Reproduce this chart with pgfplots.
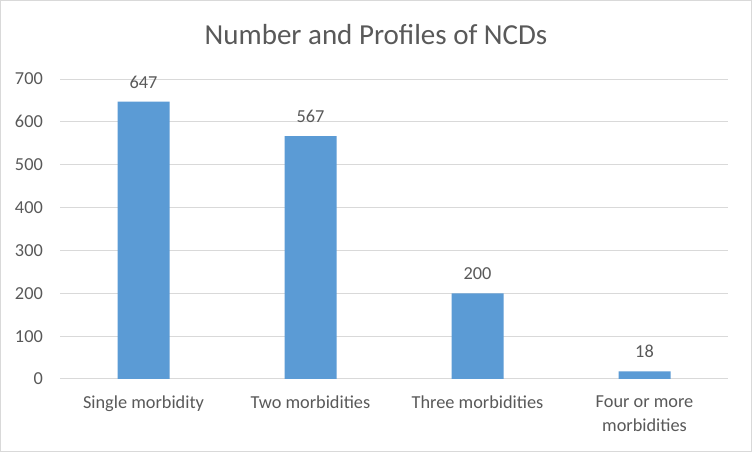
\documentclass[border=0pt]{standalone}
\usepackage{pgfplots}
\pgfplotsset{compat=1.18}
\usepackage{fontspec}
\setmainfont{Carlito}
\definecolor{barblue}{HTML}{5B9BD5}
\definecolor{txt}{HTML}{595959}
\definecolor{gridc}{HTML}{D9D9D9}
\begin{document}
\begin{tikzpicture}[x=1pt,y=1pt]
\path[draw=gridc, line width=1pt, fill=white] (0.5,0.5) rectangle (751.5,451.5);
\node[text=txt, font=\fontsize{29}{33}\selectfont, anchor=base, inner sep=0pt] at (376,407) {Number and Profiles of NCDs};
\begin{axis}[
  at={(60pt,73pt)}, anchor=south west,
  scale only axis, width=668pt, height=300pt,
  ymin=0, ymax=700, xmin=-0.5, xmax=3.5,
  ytick={0,100,...,700},
  xtick={0,1,2,3},
  xticklabels={Single morbidity, Two morbidities, Three morbidities, {Four or more\\morbidities}},
  ymajorgrids, grid style={gridc, line width=1pt},
  axis line style={draw=none},
  major tick length=0pt, tick style={draw=none},
  /pgf/number format/assume math mode=true,
  tick label style={text=txt, font=\fontsize{18.3}{24}\selectfont},
  yticklabel style={inner sep=0pt, anchor=east, xshift=-17pt},
  xticklabel style={inner sep=0pt, anchor=north, yshift=-17pt, align=center},
  ybar, bar width=52pt,
  nodes near coords,
  every node near coord/.append style={text=txt, font=\fontsize{18.3}{21}\selectfont, anchor=base, inner sep=0pt, yshift=13.5pt},
  clip=false,
]
\addplot[fill=barblue, draw=none] coordinates {(0,647) (1,567) (2,200) (3,18)};
\end{axis}
\end{tikzpicture}
\end{document}
